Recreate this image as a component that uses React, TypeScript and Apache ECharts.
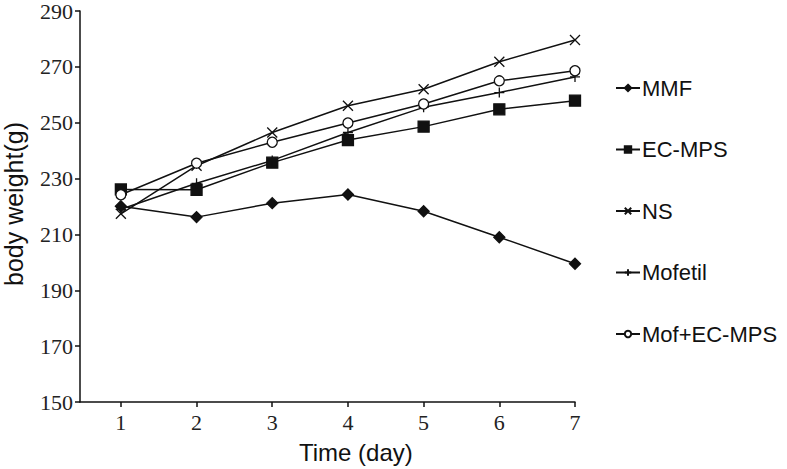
import React, { useEffect, useRef } from "react";
import * as echarts from "echarts";

const days = [1, 2, 3, 4, 5, 6, 7];
const mmf = [220.1, 216.2, 221.2, 224.3, 218.3, 209.0, 199.5];
const ecMps = [226.1, 226.0, 235.7, 243.8, 248.6, 254.8, 257.9];
const ns = [217.4, 234.6, 246.5, 256.1, 262.0, 271.8, 279.6];
const mofetil = [219.0, 228.3, 236.5, 246.5, 255.5, 260.8, 266.4];
const mofEc = [224.2, 235.5, 243.0, 249.9, 256.7, 265.0, 268.6];
const yTicks = [150, 170, 190, 210, 230, 250, 270, 290];

const seriesNames = ["MMF", "EC-MPS", "NS", "Mofetil", "Mof+EC-MPS"];

const CROSS = "path://M0,0L10,10M10,0L0,10";
const PLUS = "path://M5,0L5,10M0,5L10,5";

export default function App() {
  const ref = useRef<HTMLDivElement>(null);
  useEffect(() => {
    document.body.style.margin = "0";
    const chart = echarts.init(ref.current!, null, { renderer: "svg" });
    const pair = (arr: number[]) => days.map((d, i) => [d, arr[i]]);
    const base = (name: string, data: number[], symbol: string, size: number, extra: any = {}) => ({
      name,
      type: "line",
      data: pair(data),
      symbol,
      symbolSize: size,
      lineStyle: { color: "#111", width: 1.5 },
      itemStyle: { color: "#111", borderColor: "#111", borderWidth: 1.3, ...extra },
      z: 3,
    });
    chart.setOption({
      animation: false,
      backgroundColor: "#fff",
      grid: { left: 80, top: 10, right: 212, bottom: 67 },
      xAxis: {
        type: "value",
        min: 0.46,
        max: 7,
        axisLine: { lineStyle: { color: "#111", width: 1.5 } },
        axisTick: { show: true, customValues: days, length: 5, lineStyle: { color: "#111", width: 1.5 } },
        axisLabel: { customValues: days, color: "#222", fontFamily: "Liberation Serif", fontSize: 22, margin: 9 },
        splitLine: { show: false },
      },
      yAxis: {
        type: "value",
        min: 150,
        max: 290,
        interval: 20,
        axisLine: { show: true, lineStyle: { color: "#111", width: 1.5 } },
        axisTick: { show: true, length: 5, lineStyle: { color: "#111", width: 1.5 } },
        axisLabel: { color: "#222", fontFamily: "Liberation Serif", fontSize: 22, margin: 7,
          customValues: yTicks },
        splitLine: { show: false },
      },
      legend: {
        orient: "vertical",
        left: 610,
        top: 72,
        itemGap: 39.5,
        itemWidth: 24,
        itemHeight: 8,
        data: seriesNames,
        textStyle: { color: "#111", fontFamily: "Liberation Sans", fontSize: 22, padding: [0, 0, 0, -3] },
      },
      graphic: [
        {
          type: "text",
          x: 299,
          y: 440,
          style: { text: "Time (day)", fill: "#111", font: "24px 'Liberation Sans'" },
        },
        {
          type: "text",
          x: 1,
          y: 286,
          rotation: Math.PI / 2,
          style: { text: "body weight(g)", fill: "#111", font: "25px 'Liberation Sans'" },
        },
      ],
      series: [
        base("MMF", mmf, "diamond", 11),
        base("EC-MPS", ecMps, "rect", 11),
        base("NS", ns, CROSS, 10),
        base("Mofetil", mofetil, PLUS, 10),
        { ...base("Mof+EC-MPS", mofEc, "circle", 10), itemStyle: { color: "#fff", borderColor: "#111", borderWidth: 1.3 } },
      ],
    });
    return () => chart.dispose();
  }, []);
  return <div ref={ref} style={{ width: 787, height: 469 }} />;
}
